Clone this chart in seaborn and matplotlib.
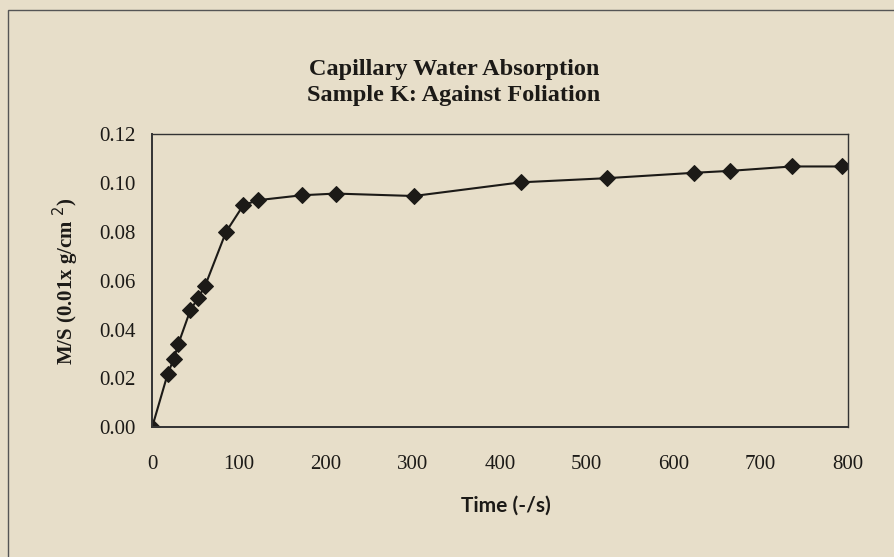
import pandas as pd
import matplotlib.pyplot as plt
import seaborn as sns
from matplotlib.patches import Rectangle

# data
waktu = [0, 18, 25, 30, 44, 53, 61, 85, 105, 122, 172, 211, 301, 424, 523, 623, 665, 736, 794]
serapan = [0.000, 0.022, 0.028, 0.034, 0.048, 0.053, 0.058, 0.080, 0.091, 0.093,
           0.095, 0.0957, 0.0947, 0.1003, 0.102, 0.1042, 0.105, 0.1068, 0.1068]
x_ticks = [0, 100, 200, 300, 400, 500, 600, 700, 800]
y_ticks = [0.00, 0.02, 0.04, 0.06, 0.08, 0.10, 0.12]

df = pd.DataFrame({"waktu": waktu, "serapan": serapan})

sns.set_style("white")
plt.rcParams['font.family'] = ['Liberation Serif', 'DejaVu Serif']
bg = "#e7dec9"
ink = "#1c1a17"

fig = plt.figure(figsize=(8.95, 5.57), dpi=100, facecolor=bg)
ax = fig.add_axes([0.170, 0.233, 0.777, 0.526])
ax.set_facecolor(bg)

sns.lineplot(data=df, x="waktu", y="serapan", ax=ax, color=ink,
             marker="D", markersize=8, markeredgecolor=ink, linewidth=1.5)

ax.set_xlim(0, 800)
ax.set_ylim(0, 0.12)
ax.set_xticks(x_ticks)
ax.set_yticks(y_ticks)
ax.set_xticklabels([str(t) for t in x_ticks], fontsize=15, color=ink)
ax.set_yticklabels([f"{t:.2f}" for t in y_ticks], fontsize=15, color=ink)
ax.tick_params(axis='x', direction='in', length=4, pad=20, color="#222222")
ax.tick_params(axis='y', direction='inout', length=6, pad=9, color="#222222")
for s in ax.spines.values():
    s.set_color("#333333")
    s.set_linewidth(1.0)
ax.spines['left'].set_linewidth(1.4)
ax.spines['bottom'].set_linewidth(1.4)

ax.set_xlabel("")
ax.set_ylabel("")
fig.text(0.565, 0.093, "Time (-/s)", ha='center', va='center', fontsize=15,
         fontweight='bold', family=['Lato', 'DejaVu Sans'], color=ink)
fig.text(0.074, 0.495, "M/S (0.01x g/cm $^{2}$)", ha='center', va='center', rotation=90,
         fontsize=15, fontweight='bold', color=ink)
fig.text(0.507, 0.866, "Capillary Water Absorption", ha='center', va='baseline',
         fontsize=17.5, fontweight='bold', color=ink)
fig.text(0.507, 0.818, "Sample K: Against Foliation", ha='center', va='baseline',
         fontsize=17.5, fontweight='bold', color=ink)

# outer chart border
fig.patches.append(Rectangle((0.009, -0.05), 1.05, 1.032, transform=fig.transFigure,
                             fill=False, edgecolor="#555555", linewidth=1.0))

fig.savefig("out.png", dpi=100, facecolor=bg)
